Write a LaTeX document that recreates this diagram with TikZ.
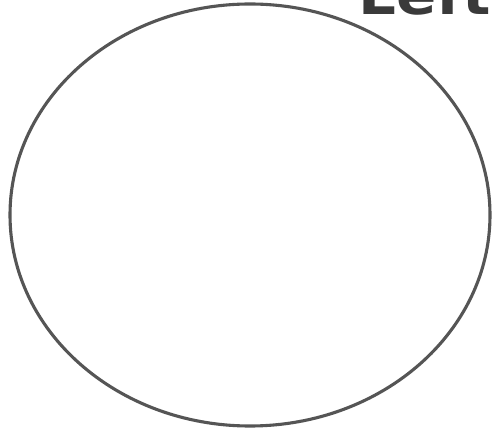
\documentclass[tikz,border=0pt]{standalone}
\usepackage{fontspec}
\usetikzlibrary{shapes.geometric}
\newfontfamily\headfont{DejaVu Sans}
\definecolor{inkgray}{HTML}{555555}
\definecolor{textgray}{HTML}{3A3A3A}
\begin{document}
\begin{tikzpicture}[x=1pt,y=1pt,
  outline/.style={draw=inkgray, line width=3.1pt},
  heading/.style={text=textgray, font=\headfont\bfseries\fontsize{54}{54}\selectfont, inner sep=0pt, anchor=base west}]
\useasboundingbox (0,0) rectangle (495,431);
\fill[white] (0,0) rectangle (495,431);
\node[outline, ellipse, minimum width=480pt, minimum height=422pt, inner sep=0pt] (oval) at (250,216) {};
\node[heading, xscale=1.1] (title) at (358,416) {Left};
\end{tikzpicture}
\end{document}
